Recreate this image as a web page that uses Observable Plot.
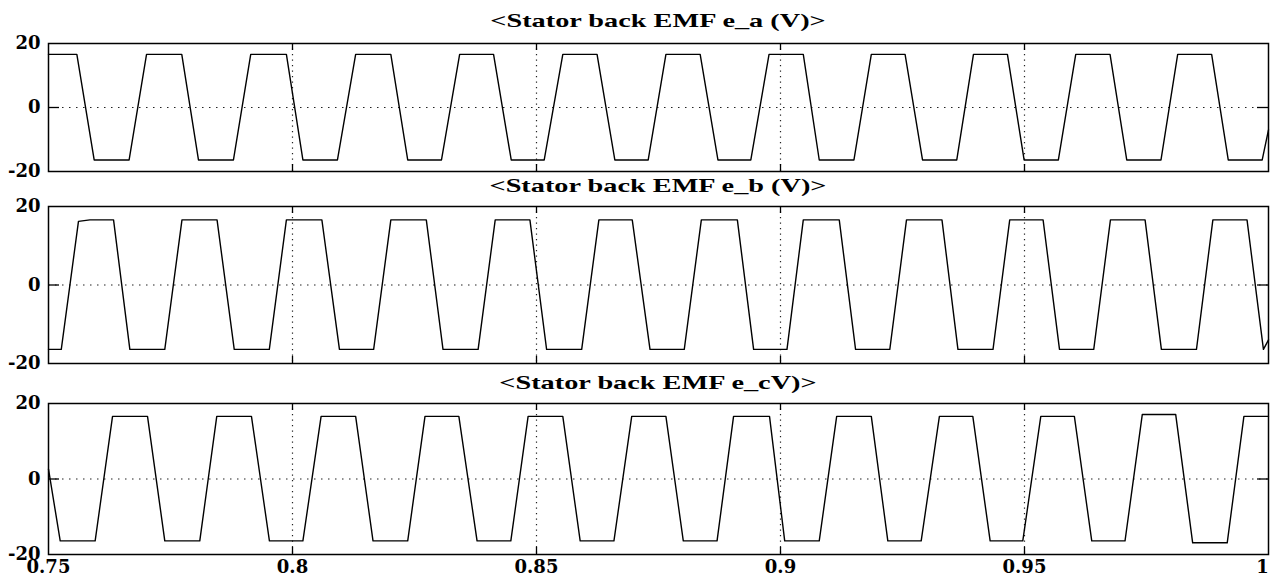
<!DOCTYPE html>
<html>
<head>
<meta charset="utf-8">
<script src="https://cdn.jsdelivr.net/npm/d3@7"></script>
<script src="https://cdn.jsdelivr.net/npm/@observablehq/plot@0.6"></script>
<style>
  html, body { margin: 0; padding: 0; background: #fff; overflow: hidden; }
  #wrap { position: relative; width: 1270px; height: 576px; overflow: hidden; background: #fff; }
  .ttl { position: absolute; left: 48px; width: 1220px; text-align: center;
         font-family: "Liberation Serif", serif; font-weight: bold; font-size: 19.5px;
         line-height: 20px; color: #000; transform: scaleX(1.45); transform-origin: 50% 50%; white-space: nowrap; }
  .pl { position: absolute; left: 0; }
</style>
</head>
<body>
<div id="wrap"></div>
<script>
// ---- data ----
const titles = ["<Stator back EMF e_a (V)>", "<Stator back EMF e_b (V)>", "<Stator back EMF e_cV)>"];
const xTicks = [0.75, 0.8, 0.85, 0.9, 0.95];
const xLastTick = [1];
const xGrid = [0.8, 0.85, 0.9, 0.95];
const yTicks = [-20, 0, 20];

const timeA = [0.75, 0.75581, 0.75936, 0.76652, 0.77009, 0.77731, 0.78073, 0.78790, 0.79144, 0.79875,
  0.80213, 0.80921, 0.81294, 0.82015, 0.82361, 0.83053, 0.83425, 0.84120, 0.84482, 0.85158,
  0.85539, 0.86241, 0.86605, 0.87289, 0.87652, 0.88354, 0.88718, 0.89392, 0.89765, 0.90467,
  0.90794, 0.91505, 0.91861, 0.92553, 0.92910, 0.93612, 0.93954, 0.94650, 0.94992, 0.95694,
  0.96050, 0.96753, 0.97095, 0.97797, 0.98139, 0.98835, 0.99175, 0.99871, 1.0];
const voltA = [16.6, 16.6, -16.4, -16.4, 16.6, 16.6, -16.4, -16.4, 16.6, 16.6,
  -16.4, -16.4, 16.6, 16.6, -16.4, -16.4, 16.6, 16.6, -16.4, -16.4,
  16.6, 16.6, -16.4, -16.4, 16.6, 16.6, -16.4, -16.4, 16.6, 16.6,
  -16.4, -16.4, 16.6, 16.6, -16.4, -16.4, 16.6, 16.6, -16.4, -16.4,
  16.6, 16.6, -16.4, -16.4, 16.6, 16.6, -16.4, -16.4, -7];

const timeB = [0.75, 0.75262, 0.75614, 0.75848, 0.76333, 0.76667, 0.77383, 0.77735, 0.78454, 0.78806,
  0.79525, 0.79875, 0.80602, 0.80962, 0.81663, 0.82015, 0.82742, 0.83084, 0.83804, 0.84154,
  0.84865, 0.85207, 0.85926, 0.86278, 0.86962, 0.87326, 0.88028, 0.88378, 0.89116, 0.89449,
  0.90133, 0.90467, 0.91204, 0.91538, 0.92240, 0.92582, 0.93309, 0.93636, 0.94355, 0.94697,
  0.95381, 0.95717, 0.96419, 0.96761, 0.97471, 0.97805, 0.98524, 0.98860, 0.99560, 0.99896, 1.0];
const voltB = [-16.4, -16.4, 16.2, 16.6, 16.6, -16.4, -16.4, 16.6, 16.6, -16.4,
  -16.4, 16.6, 16.6, -16.4, -16.4, 16.6, 16.6, -16.4, -16.4, 16.6,
  16.6, -16.4, -16.4, 16.6, 16.6, -16.4, -16.4, 16.6, 16.6, -16.4,
  -16.4, 16.6, 16.6, -16.4, -16.4, 16.6, 16.6, -16.4, -16.4, 16.6,
  16.6, -16.4, -16.4, 16.6, 16.6, -16.4, -16.4, 16.6, 16.6, -16.4, -14];

const timeC = [0.75, 0.75240, 0.75956, 0.76312, 0.77029, 0.77383, 0.78100, 0.78448, 0.79159, 0.79527,
  0.80213, 0.80586, 0.81294, 0.81650, 0.82361, 0.82715, 0.83409, 0.83782, 0.84474, 0.84828,
  0.85539, 0.85895, 0.86587, 0.86951, 0.87652, 0.88008, 0.88700, 0.89038, 0.89775, 0.90086,
  0.90794, 0.91151, 0.91861, 0.92199, 0.92883, 0.93256, 0.93941, 0.94296, 0.94965, 0.95334,
  0.96022, 0.96378, 0.97060, 0.97414, 0.98098, 0.98446, 0.99154, 0.99496, 1.0];
const voltC = [2.6, -16.4, -16.4, 16.6, 16.6, -16.4, -16.4, 16.6, 16.6, -16.4,
  -16.4, 16.6, 16.6, -16.4, -16.4, 16.6, 16.6, -16.4, -16.4, 16.6,
  16.6, -16.4, -16.4, 16.6, 16.6, -16.4, -16.4, 16.6, 16.6, -16.4,
  -16.4, 16.6, 16.6, -16.4, -16.4, 16.6, 16.6, -16.4, -16.4, 16.6,
  16.6, -16.4, -16.4, 17.1, 17.1, -16.9, -16.9, 16.6, 16.6];

// ---- layout ----
const panels = [
  {time: timeA, volt: voltA, frameTop: 43, frameBottom: 171, titleTop: 11, showX: false},
  {time: timeB, volt: voltB, frameTop: 206, frameBottom: 363, titleTop: 176, showX: false},
  {time: timeC, volt: voltC, frameTop: 403, frameBottom: 554, titleTop: 373, showX: true}
];

const wrap = document.getElementById("wrap");
const W = 1270, ML = 48, MR = 2;
const xPerPx = 0.25 / (W - ML - MR);

panels.forEach((p, i) => {
  const data = p.time.map((t, k) => ({t, v: p.volt[k]}));
  const mt = 12, mb = p.showX ? 26 : 12;
  const h = p.frameBottom - p.frameTop;
  const yPerPx = 40 / h;
  const vt = 7 * yPerPx;   // vertical tick length in data units
  const ht = 11 * xPerPx;  // horizontal tick length in data units
  const axisOpts = {tickSize: 0, tickPadding: 6, tickFormat: d => String(d), label: null};
  const svg = Plot.plot({
    width: W,
    height: h + mt + mb,
    marginLeft: ML, marginRight: MR, marginTop: mt, marginBottom: mb,
    style: {background: "transparent", fontFamily: "'DejaVu Serif', serif", fontSize: "18px", fontWeight: "bold", color: "#000", overflow: "visible"},
    x: {domain: [0.75, 1], axis: null},
    y: {domain: [-20, 20], ticks: yTicks, tickSize: 0, tickPadding: 8, tickFormat: d => String(d), label: null},
    marks: [
      Plot.ruleX(xGrid, {stroke: "#222", strokeWidth: 1.2, strokeDasharray: "1.3,4.2"}),
      Plot.ruleY([0], {stroke: "#222", strokeWidth: 1.2, strokeDasharray: "1.5,5.5"}),
      Plot.line(data, {x: "t", y: "v", stroke: "#000", strokeWidth: 1.4}),
      Plot.ruleX(xGrid, {y1: 20, y2: 20 - vt, stroke: "#000", strokeWidth: 1.3}),
      Plot.ruleX(xGrid, {y1: -20, y2: -20 + vt, stroke: "#000", strokeWidth: 1.3}),
      Plot.ruleY([0], {x1: 0.75, x2: 0.75 + ht, stroke: "#000", strokeWidth: 1.3}),
      Plot.ruleY([0], {x1: 1, x2: 1 - ht, stroke: "#000", strokeWidth: 1.3}),
      Plot.frame({stroke: "#000", strokeWidth: 1.5}),
      p.showX ? Plot.axisX(xTicks, axisOpts) : null,
      p.showX ? Plot.axisX(xLastTick, {...axisOpts, dx: -6}) : null
    ]
  });
  svg.classList.add("pl");
  svg.style.top = (p.frameTop - mt) + "px";
  svg.style.position = "absolute";
  wrap.appendChild(svg);

  const t = document.createElement("div");
  t.className = "ttl";
  t.style.top = p.titleTop + "px";
  t.textContent = titles[i];
  wrap.appendChild(t);
});
</script>
</body>
</html>
